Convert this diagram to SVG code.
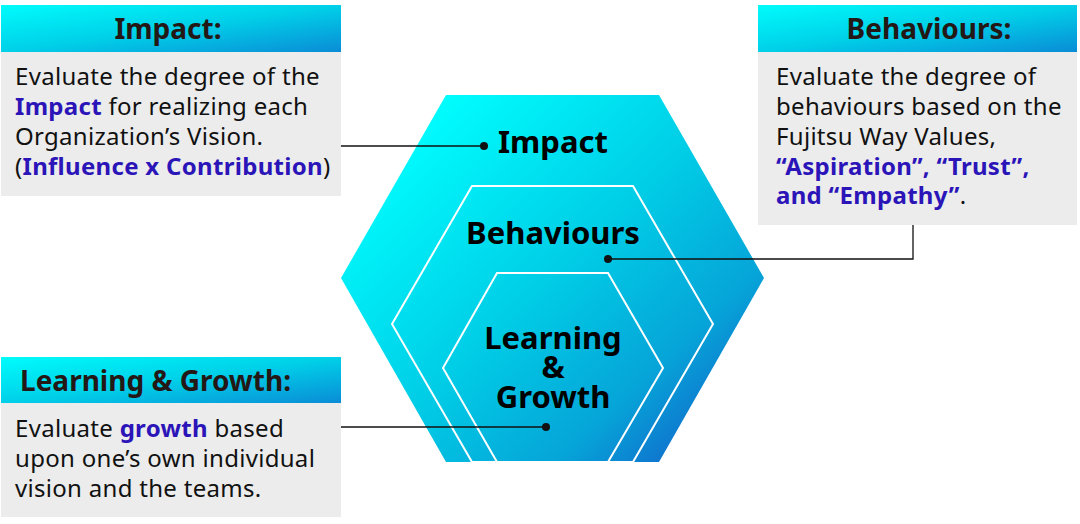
<svg xmlns="http://www.w3.org/2000/svg" width="1080" height="524" viewBox="0 0 1080 524">
<defs>
<linearGradient id="hexg" gradientUnits="userSpaceOnUse" x1="400" y1="130" x2="720" y2="470">
<stop offset="0" stop-color="#00ffff"/>
<stop offset="0.45" stop-color="#00cde6"/>
<stop offset="0.75" stop-color="#06a4d8"/>
<stop offset="1" stop-color="#1558c8"/>
</linearGradient>
<linearGradient id="hdrg" x1="0" y1="0" x2="1" y2="1">
<stop offset="0" stop-color="#00fcfc"/>
<stop offset="0.5" stop-color="#00d0e8"/>
<stop offset="1" stop-color="#0a8cd6"/>
</linearGradient>
<style>
.hdr{fill:url(#hdrg);}
.body{fill:#ececec;}
.ttl{font-family:"Noto Sans","Liberation Sans",sans-serif;font-weight:700;font-size:28px;fill:#231815;}
.txt{font-family:"Noto Sans","Liberation Sans",sans-serif;font-size:24px;letter-spacing:0.3px;fill:#111;}
.hl{fill:#2b14b8;font-weight:700;}
.hexl{font-family:"Noto Sans","Liberation Sans",sans-serif;font-weight:700;font-size:31px;fill:#000;text-anchor:middle;}
.wl{fill:none;stroke:#ffffff;stroke-width:2;}
.conn{fill:none;stroke:#111;stroke-width:1.3;}
.dot{fill:#111;}
</style>
</defs>
<rect width="1080" height="524" fill="#ffffff"/>

<g id="hexagon">
<polygon points="446,95 659,95 764,278 659,462 446,462 341,278" fill="url(#hexg)"/>
<polygon class="wl" points="472,186 633,186 713,324 633,462 472,462 392,324"/>
<polygon class="wl" points="497,273 608,273 663,368 608,462 497,462 443,368"/>
<text class="hexl" x="553" y="153">Impact</text>
<text class="hexl" x="553" y="244">Behaviours</text>
<text class="hexl" x="553" y="349">Learning</text>
<text class="hexl" x="553" y="378">&amp;</text>
<text class="hexl" x="553" y="408">Growth</text>
</g>

<g id="impact-box">
<rect class="body" x="1" y="52" width="340" height="144"/>
<rect class="hdr" x="1" y="5" width="340" height="47"/>
<text class="ttl" x="168" y="39" text-anchor="middle">Impact:</text>
<text class="txt" x="15" y="85">Evaluate the degree of the</text>
<text class="txt" x="15" y="115"><tspan class="hl">Impact</tspan> for realizing each</text>
<text class="txt" x="15" y="145">Organization’s Vision.</text>
<text class="txt" x="15" y="175">(<tspan class="hl">Influence x Contribution</tspan>)</text>
</g>

<g id="behaviours-box">
<rect class="body" x="758" y="52" width="319" height="173"/>
<rect class="hdr" x="758" y="5" width="319" height="47"/>
<text class="ttl" x="929" y="39" text-anchor="middle">Behaviours:</text>
<text class="txt" x="776" y="85">Evaluate the degree of</text>
<text class="txt" x="776" y="115">behaviours based on the</text>
<text class="txt" x="776" y="145">Fujitsu Way Values,</text>
<text class="txt" x="776" y="175"><tspan class="hl">“Aspiration”, “Trust”,</tspan></text>
<text class="txt" x="776" y="204"><tspan class="hl">and “Empathy”</tspan>.</text>
</g>

<g id="learning-box">
<rect class="body" x="1" y="403" width="340" height="114"/>
<rect class="hdr" x="1" y="357" width="340" height="46"/>
<text class="ttl" x="20" y="391">Learning &amp; Growth:</text>
<text class="txt" x="15" y="437">Evaluate <tspan class="hl">growth</tspan> based</text>
<text class="txt" x="15" y="467">upon one’s own individual</text>
<text class="txt" x="15" y="497">vision and the teams.</text>
</g>

<g id="connectors">
<line class="conn" x1="341" y1="146" x2="484" y2="146"/>
<circle class="dot" cx="484" cy="146" r="4"/>
<polyline class="conn" points="608,259 913,259 913,225" stroke="#333"/>
<circle class="dot" cx="608" cy="259" r="4"/>
<line class="conn" x1="341" y1="427" x2="546" y2="427"/>
<circle class="dot" cx="546" cy="427" r="4"/>
</g>
</svg>
